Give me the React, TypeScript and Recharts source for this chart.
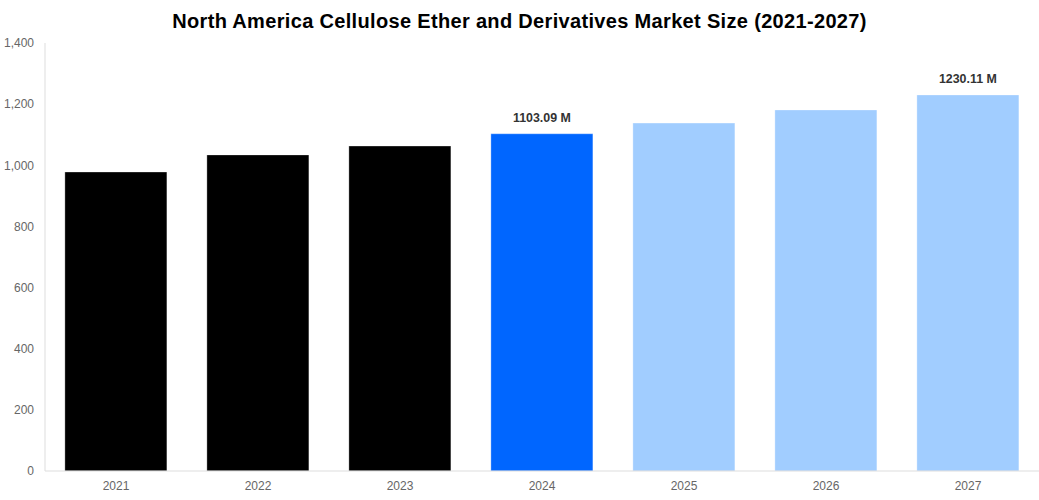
import React from "react";
import { BarChart, Bar, XAxis, YAxis, Cell, LabelList } from "recharts";

const years = ["2021", "2022", "2023", "2024", "2025", "2026", "2027"];
const values = [978, 1034, 1063, 1103.09, 1138, 1181, 1230.11];
const barColors = ["#000000", "#000000", "#000000", "#0066ff", "#a1cdff", "#a1cdff", "#a1cdff"];
const labelTexts = ["", "", "", "1103.09 M", "", "", "1230.11 M"];
const yTicks = [0, 200, 400, 600, 800, 1000, 1200, 1400];

const data = years.map((y, i) => ({ year: y, value: values[i], label: labelTexts[i] }));

const renderLabel = (props: any) => {
  const { x, y, width, value } = props;
  if (!value) return null;
  return (
    <text
      x={x + width / 2}
      y={y - 16}
      textAnchor="middle"
      dominantBaseline="central"
      fontSize={12.4}
      fontWeight="bold"
      fill="#333"
      fontFamily="'Liberation Sans', Arial, sans-serif"
    >
      {value}
    </text>
  );
};

export default function App() {
  return (
    <div style={{ position: "absolute", left: 0, top: 0, width: 1039, height: 500, background: "#fff", fontFamily: "'Liberation Sans', Arial, sans-serif" }}>
      <div
        style={{
          position: "absolute",
          left: 0,
          top: 8,
          width: 1039,
          textAlign: "center",
          fontSize: 20,
          fontWeight: "bold",
          color: "#000",
          lineHeight: "26px",
          letterSpacing: "0.33px",
        }}
      >
        North America Cellulose Ether and Derivatives Market Size (2021-2027)
      </div>
      <BarChart
        width={1039}
        height={500}
        data={data}
        margin={{ top: 43, right: 0, bottom: 0, left: 0 }}
        barCategoryGap="14%"
      >
        <XAxis
          dataKey="year"
          height={29}
          tickLine={false}
          axisLine={{ stroke: "#ddd" }}
          tick={{ fill: "#666", fontSize: 12 }}
          tickMargin={4}
        />
        <YAxis
          width={45}
          domain={[0, 1400]}
          ticks={yTicks}
          tickLine={false}
          axisLine={{ stroke: "#ddd" }}
          tick={{ fill: "#666", fontSize: 12 }}
          tickMargin={5}
          tickFormatter={(v: number) => v.toLocaleString("en-US")}
        />
        <Bar dataKey="value" isAnimationActive={false} stroke="#fff" strokeOpacity={0.3}>
          {data.map((d, i) => (
            <Cell key={d.year} fill={barColors[i]} />
          ))}
          <LabelList dataKey="label" content={renderLabel} />
        </Bar>
      </BarChart>
    </div>
  );
}
